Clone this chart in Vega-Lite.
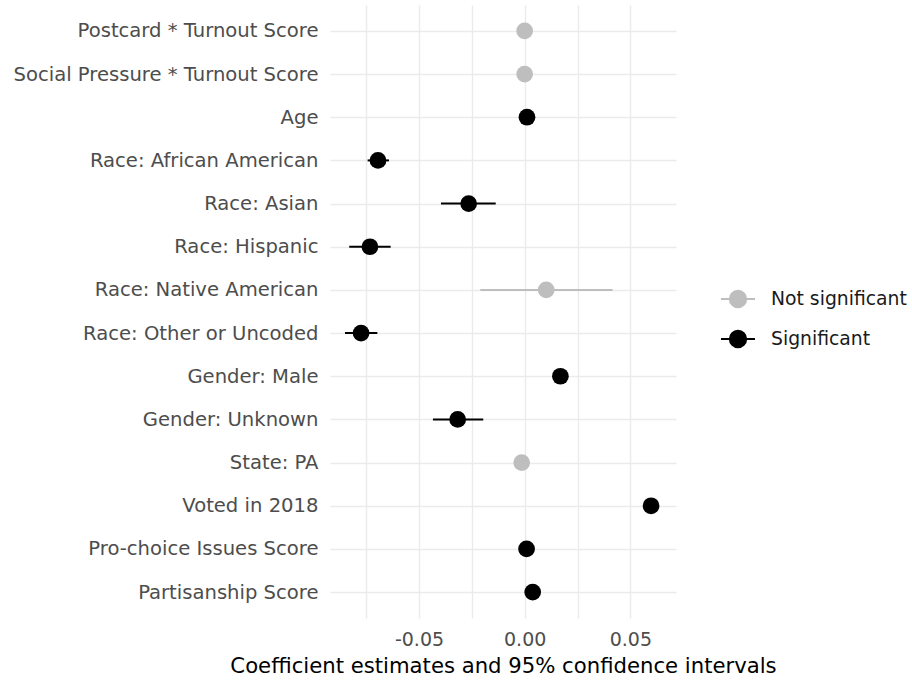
{
  "$schema": "https://vega.github.io/schema/vega-lite/v6.json",
  "autosize": "none",
  "width": 346,
  "height": 613,
  "padding": {"left": 330, "top": 5, "right": 236, "bottom": 65},
  "background": "white",
  "config": {
    "font": "DejaVu Sans",
    "view": {"stroke": null}
  },
  "data": {
    "values": [
      {"term": "Postcard * Turnout Score", "est": 0.0, "lo": -0.0004, "hi": 0.0004, "sig": "Not significant"},
      {"term": "Social Pressure * Turnout Score", "est": 0.0, "lo": -0.0004, "hi": 0.0004, "sig": "Not significant"},
      {"term": "Age", "est": 0.0011, "lo": 0.0009, "hi": 0.0013, "sig": "Significant"},
      {"term": "Race: African American", "est": -0.0694, "lo": -0.0743, "hi": -0.0642, "sig": "Significant"},
      {"term": "Race: Asian", "est": -0.0265, "lo": -0.0396, "hi": -0.0137, "sig": "Significant"},
      {"term": "Race: Hispanic", "est": -0.0732, "lo": -0.083, "hi": -0.0634, "sig": "Significant"},
      {"term": "Race: Native American", "est": 0.0102, "lo": -0.021, "hi": 0.0416, "sig": "Not significant"},
      {"term": "Race: Other or Uncoded", "est": -0.0774, "lo": -0.085, "hi": -0.0697, "sig": "Significant"},
      {"term": "Gender: Male", "est": 0.0169, "lo": 0.0145, "hi": 0.0193, "sig": "Significant"},
      {"term": "Gender: Unknown", "est": -0.0317, "lo": -0.0434, "hi": -0.0196, "sig": "Significant"},
      {"term": "State: PA", "est": -0.0014, "lo": -0.0037, "hi": 0.0009, "sig": "Not significant"},
      {"term": "Voted in 2018", "est": 0.0598, "lo": 0.0578, "hi": 0.0618, "sig": "Significant"},
      {"term": "Pro-choice Issues Score", "est": 0.0009, "lo": 0.0007, "hi": 0.0011, "sig": "Significant"},
      {"term": "Partisanship Score", "est": 0.0038, "lo": 0.0033, "hi": 0.0043, "sig": "Significant"}
    ]
  },
  "encoding": {
    "y": {
      "field": "term",
      "type": "nominal",
      "sort": null,
      "scale": {"type": "point", "padding": 0.6},
      "axis": {
        "title": null,
        "domain": false,
        "ticks": false,
        "labelFontSize": 19.6,
        "labelColor": "#4D4D4D",
        "labelPadding": 12,
        "labelLimit": 400,
        "grid": true,
        "gridColor": "#EBEBEB",
        "gridWidth": 1.4
      }
    },
    "color": {
      "field": "sig",
      "type": "nominal",
      "scale": {"domain": ["Not significant", "Significant"], "range": ["#BEBEBE", "#000000"]},
      "legend": {
        "title": null,
        "orient": "none",
        "legendX": 390,
        "legendY": 276,
        "labelFontSize": 18.8,
        "labelColor": "#1A1A1A",
        "labelLimit": 300,
        "symbolType": "M-1,0L1,0M-0.48,0A0.48,0.48 0 1,1 0.48,0A0.48,0.48 0 1,1 -0.48,0Z",
        "symbolSize": 1156,
        "symbolStrokeWidth": 2,
        "rowPadding": 9,
        "labelOffset": 15,
        "encode": {
          "symbols": {
            "update": {
              "stroke": {"scale": "color", "field": "value"},
              "fill": {"scale": "color", "field": "value"},
              "strokeWidth": {"value": 2},
              "opacity": {"value": 1}
            }
          }
        }
      }
    }
  },
  "layer": [
    {
      "mark": {"type": "rule", "strokeWidth": 2},
      "encoding": {
        "x": {
          "field": "lo",
          "type": "quantitative",
          "scale": {"domain": [-0.0921, 0.0716], "nice": false, "zero": false},
          "axis": {
            "values": [-0.075, -0.05, -0.025, 0, 0.025, 0.05],
            "labelExpr": "(datum.value == -0.05 || datum.value == 0 || datum.value == 0.05) ? replace(format(datum.value, '.2f'), '−', '-') : ''",
            "title": "Coefficient estimates and 95% confidence intervals",
            "titleFontSize": 21.2,
            "titleFontWeight": "normal",
            "titleColor": "#000000",
            "titlePadding": 6,
            "domain": false,
            "ticks": false,
            "labelFontSize": 19,
            "labelColor": "#4D4D4D",
            "labelPadding": 12,
            "grid": true,
            "gridColor": "#EBEBEB",
            "gridWidth": 1.4
          }
        },
        "x2": {"field": "hi"}
      }
    },
    {
      "mark": {"type": "point", "filled": true, "opacity": 1, "size": 280},
      "encoding": {
        "x": {"field": "est", "type": "quantitative"}
      }
    }
  ]
}
